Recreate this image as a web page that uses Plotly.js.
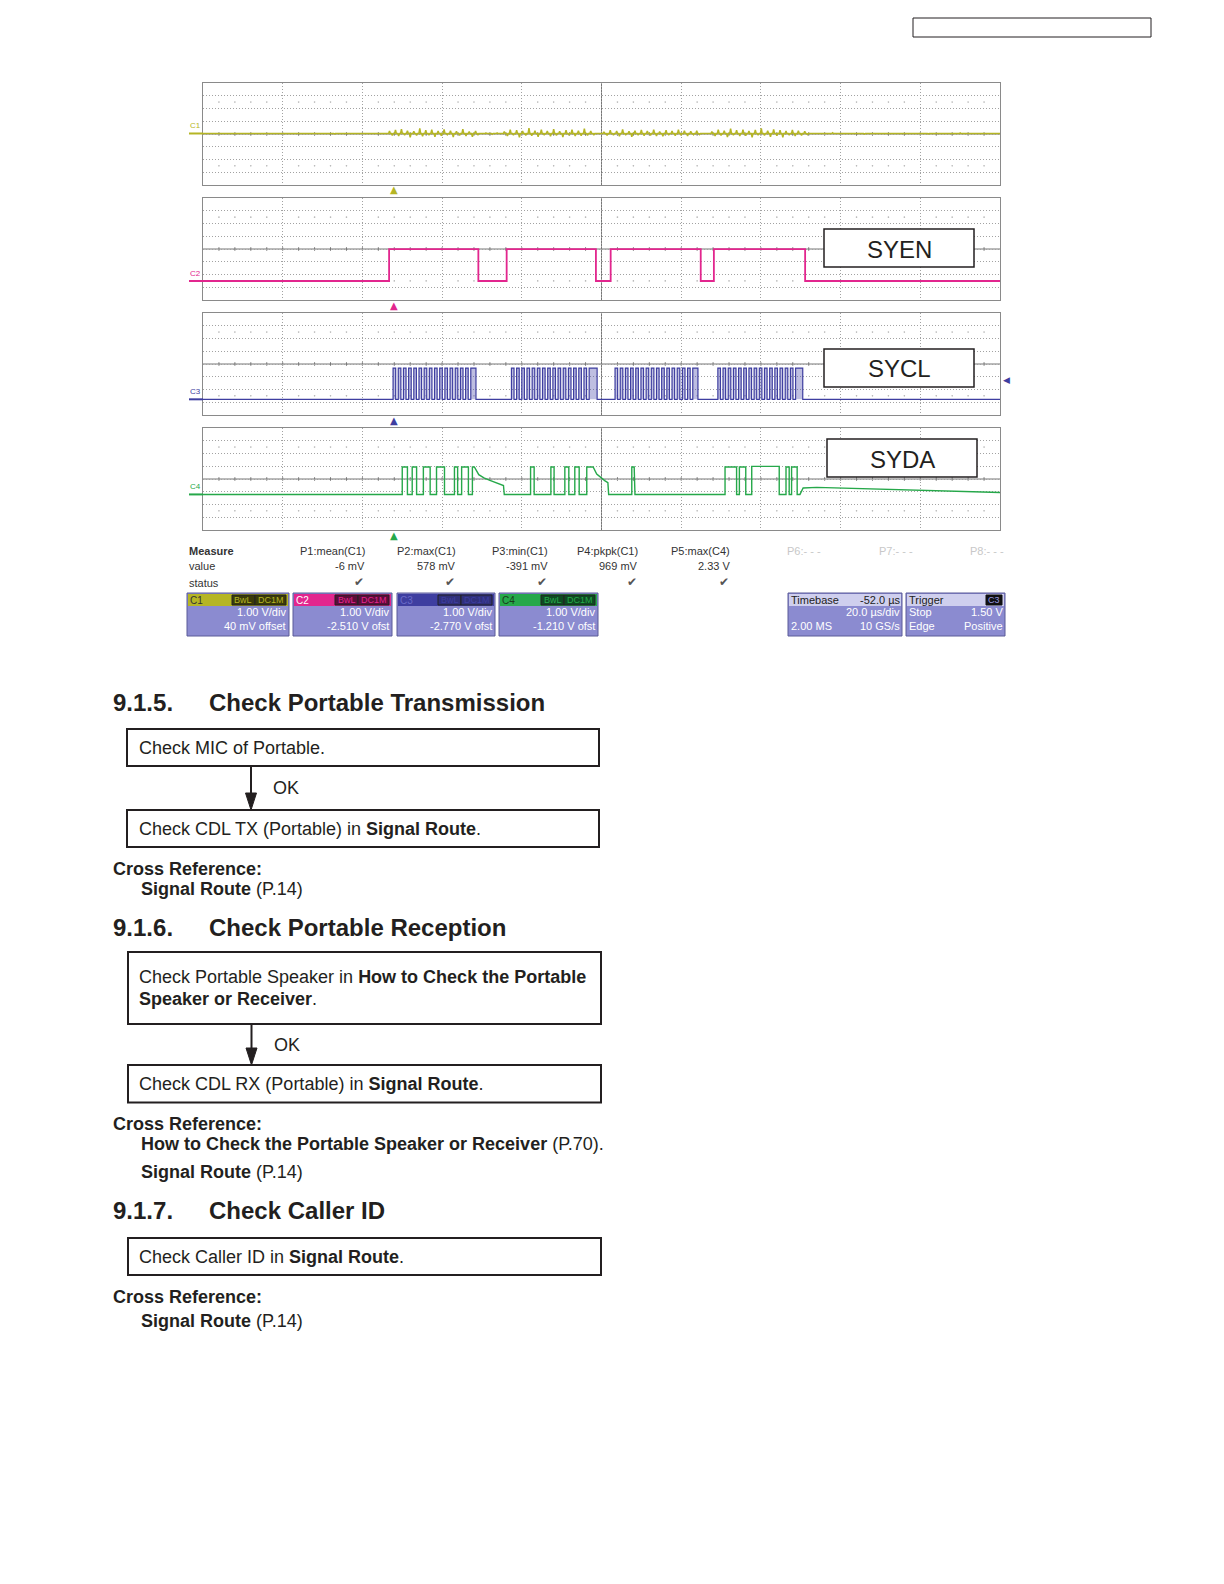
<!DOCTYPE html>
<html><head><meta charset="utf-8">
<script src="https://cdn.plot.ly/plotly-3.0.1.min.js"></script>
<style>html,body{margin:0;padding:0;background:#fff}#chart{width:1224px;height:1584px}</style>
</head><body><div id="chart"></div>
<script>
// ================= DATA =================
const timeRange = [-48, 152];                 // µs, 20 µs/div, timebase -52.0 µs
const channelNames = ['C1', 'C2', 'C3', 'C4'];
const channelOffsets = [0.04, -2.51, -2.77, -1.21];   // V
const signalLabels = ['', 'SYEN', 'SYCL', 'SYDA'];

// C1 noise spikes on a 0 V baseline (time µs, amplitude V)
const c1SpikeT = [-30,-15,
  -1.2,-0.5,0.3,1.1,1.8,2.6,3.3,4.0,4.9,5.6,6.4,7.1,7.9,8.7,9.4,10.2,11.0,11.8,12.5,13.3,14.1,14.8,15.6,16.4,17.2,18.0,18.8,19.6,20.4,21.0,
  23.0,24.6,25.8,
  27.6,28.4,29.1,29.9,30.7,31.4,32.2,33.0,33.8,34.5,35.3,36.1,36.9,37.6,38.4,39.2,40.0,40.7,41.5,42.3,43.1,43.8,44.6,45.4,46.2,46.9,47.7,48.5,49.3,50.1,
  52.6,53.4,54.2,55.0,55.8,56.5,57.3,58.1,58.9,59.6,60.4,61.2,62.0,62.7,63.5,64.3,65.1,65.8,66.6,67.4,68.2,68.9,69.7,70.5,71.3,72.0,72.8,73.6,74.4,75.1,75.9,76.6,
  79.7,80.5,81.3,82.0,82.8,83.6,84.4,85.1,85.9,86.7,87.5,88.2,89.0,89.8,90.6,91.3,92.1,92.9,93.7,94.4,95.2,96.0,96.8,97.5,98.3,99.1,99.9,100.6,101.4,102.2,103.0,103.7,
  110,118,126,134,142];
const c1SpikeV = [0.04,-0.04,
  0.2,-0.15,0.28,-0.2,0.35,-0.12,0.22,-0.3,0.18,-0.15,0.4,-0.22,0.25,-0.12,0.3,-0.25,0.2,-0.18,0.32,-0.1,0.22,-0.28,0.18,-0.15,0.35,-0.2,0.15,-0.25,0.2,-0.1,
  0.05,-0.06,0.05,
  0.15,-0.2,0.3,-0.12,0.25,-0.3,0.2,-0.15,0.42,-0.18,0.22,-0.25,0.3,-0.1,0.2,-0.22,0.35,-0.15,0.18,-0.28,0.25,-0.12,0.3,-0.2,0.22,-0.18,0.38,-0.15,0.2,-0.1,
  0.12,-0.15,0.25,-0.12,0.2,-0.22,0.32,-0.1,0.18,-0.25,0.22,-0.12,0.28,-0.18,0.2,-0.15,0.3,-0.2,0.15,-0.22,0.25,-0.1,0.2,-0.18,0.3,-0.12,0.22,-0.2,0.18,-0.1,0.22,-0.08,
  0.15,-0.2,0.3,-0.15,0.22,-0.28,0.38,-0.12,0.25,-0.2,0.3,-0.18,0.2,-0.3,0.28,-0.12,0.4,-0.15,0.22,-0.25,0.32,-0.18,0.25,-0.3,0.2,-0.12,0.28,-0.2,0.22,-0.15,0.18,-0.08,
  0.06,-0.05,0.05,-0.04,0.05];

// C2 SYEN (step levels, V)
const c2T = [-48, -1.3, 21.1, 28.2, 50.6, 54.3, 76.9, 80.2, 103.1, 152];
const c2V = [0, 2.5, 0, 2.5, 0, 2.5, 0, 2.5, 0, 0];

// C3 SYCL clock edges (µs)
const c3Rise = [-0.3,1.0,2.3,3.6,4.9,6.2,7.5,8.8,10.1,11.4,12.7,14.0,15.3,16.6,17.9,19.2,
  29.4,30.7,32.0,33.3,34.6,35.9,37.2,38.5,39.8,41.1,42.4,43.7,45.0,46.3,47.6,48.9,
  55.4,56.7,58.0,59.3,60.6,61.9,63.2,64.5,65.8,67.1,68.4,69.7,71.0,72.3,73.6,74.9,
  81.2,82.5,83.8,85.1,86.4,87.7,89.0,90.3,91.6,92.9,94.2,95.5,96.8,98.1,99.4,100.7];
const c3Fall = [0.35,1.65,2.95,4.25,5.55,6.85,8.15,9.45,10.75,12.05,13.35,14.65,15.95,17.25,18.55,20.5,
  30.05,31.35,32.65,33.95,35.25,36.55,37.85,39.15,40.45,41.75,43.05,44.35,45.65,46.95,48.25,50.9,
  56.05,57.35,58.65,59.95,61.25,62.55,63.85,65.15,66.45,67.75,69.05,70.35,71.65,72.95,74.25,76.2,
  81.85,83.15,84.45,85.75,87.05,88.35,89.65,90.95,92.25,93.55,94.85,96.15,97.45,98.75,100.05,102.5];
const c3High = 2.45, c3Low = 0;

// C4 SYDA (V)
const c4T = [-48,2.0,2.0,3.3,3.3,4.5,4.5,5.6,5.6,7.3,7.3,9.0,9.0,10.6,10.6,12.6,12.6,15.1,15.1,15.9,15.9,16.9,16.9,18.6,18.6,19.6,19.6,20.1,21.2,22.5,24.0,25.8,27.4,27.6,
  34.2,34.2,35.1,35.1,39.3,39.3,40.1,40.1,42.8,42.8,43.8,43.8,45.3,45.3,46.4,46.4,48.3,48.3,49.9,50.8,51.8,52.8,53.6,53.8,
  59.6,59.6,60.2,60.4,
  83.0,83.0,85.9,85.9,86.6,86.6,88.2,88.2,89.7,89.7,96.6,96.6,98.3,98.3,99.1,99.1,99.7,99.7,101.1,101.1,101.8,102.6,106,115,125,135,145,152];
const c4V = [0,0,2.15,2.15,0,0,2.15,2.15,0,0,2.15,2.15,0,0,2.15,2.15,0,0,2.15,2.15,0,0,2.15,2.15,0,0,2.15,2.15,1.55,1.3,1.1,0.88,0.7,0,
  0,2.15,2.15,0,0,2.15,2.15,0,0,2.15,2.15,0,0,2.15,2.15,0,0,2.15,2.15,1.6,1.3,1.08,0.92,0,
  0,2.15,2.15,0,
  0,2.15,2.15,0,0,2.15,2.15,0,0,2.2,2.2,0,0,2.15,2.15,0,0,2.15,2.15,0,0,0.5,0.55,0.48,0.38,0.28,0.2,0.15];

const triggerLevel = 1.5;  // V on C3

// Measurements & settings
const measureNames  = ['P1:mean(C1)','P2:max(C1)','P3:min(C1)','P4:pkpk(C1)','P5:max(C4)','P6:- - -','P7:- - -','P8:- - -'];
const measureValues = ['-6 mV','578 mV','-391 mV','969 mV','2.33 V','','',''];
const measureStatus = [true,true,true,true,true,false,false,false];
const channelVdiv   = ['1.00 V/div','1.00 V/div','1.00 V/div','1.00 V/div'];
const channelOfsTxt = ['40 mV offset','-2.510 V ofst','-2.770 V ofst','-1.210 V ofst'];

// ================= STYLE / LAYOUT =================
const W = 1224, H = 1584;
const FONT = 'Liberation Sans, Arial, Helvetica, sans-serif';
const chColors = ['#b5b524', '#e2268e', '#3e3ea0', '#26a84a'];
const panelTops = [83, 198, 313, 428], panelH = 102, panelX0 = 203, panelX1 = 1000;

const A = [], S = [];
const px = x => x / W, py = y => 1 - y / H;
function T(x, y, text, size, o = {}) {
  A.push({xref:'paper', yref:'paper', x:px(x), y:py(y), text, showarrow:false,
    xanchor:o.anchor || 'left', yanchor:'middle', borderpad:0, borderwidth:0,
    font:{family:o.family || FONT, size, color:o.color || '#231f20'}});
}
function R(x0, y0, x1, y1, o = {}) {
  S.push({type:'rect', xref:'paper', yref:'paper', x0:px(x0), x1:px(x1), y0:py(y1), y1:py(y0),
    line:{color:o.line || '#000', width:(o.lw === undefined ? 1 : o.lw)},
    fillcolor:o.fill || 'rgba(0,0,0,0)', layer:'above'});
}
function Ln(x0, y0, x1, y1, color, w) {
  S.push({type:'line', xref:'paper', yref:'paper', x0:px(x0), x1:px(x1), y0:py(y0), y1:py(y1),
    line:{color, width:w}, layer:'above'});
}
function Tri(xc, ytop, ybot, halfw) {
  S.push({type:'path', xref:'paper', yref:'paper',
    path:`M ${px(xc-halfw)} ${py(ytop)} L ${px(xc+halfw)} ${py(ytop)} L ${px(xc)} ${py(ybot)} Z`,
    fillcolor:'#231f20', line:{color:'#231f20', width:1}, layer:'above'});
}

const layout = {width:W, height:H, margin:{l:0, r:0, t:0, b:0}, paper_bgcolor:'#fff', plot_bgcolor:'#fff',
  showlegend:false, hovermode:false, autosize:false};

const traces = [];
const gridStyle = {showgrid:true, gridcolor:'#a2a2a2', griddash:'1px,2px', gridwidth:1,
  showline:true, linecolor:'#8a8a8a', linewidth:1, mirror:true, zeroline:false,
  showticklabels:false, ticks:'', fixedrange:true};

for (let i = 0; i < 4; i++) {
  const xk = i ? 'xaxis' + (i + 1) : 'xaxis', yk = i ? 'yaxis' + (i + 1) : 'yaxis';
  const xr = i ? 'x' + (i + 1) : 'x', yr = i ? 'y' + (i + 1) : 'y';
  const off = channelOffsets[i];
  const top = panelTops[i];
  layout[xk] = Object.assign({}, gridStyle, {domain:[px(panelX0), px(panelX1)], range:timeRange.slice(),
    anchor:yr, tick0:timeRange[0], dtick:20});
  layout[yk] = Object.assign({}, gridStyle, {domain:[py(top + panelH), py(top)], range:[-4 - off, 4 - off],
    anchor:xr, tick0:-off, dtick:1});
  const mid = (timeRange[0] + timeRange[1]) / 2;
  // centre crosshair
  S.push({type:'line', xref:xr, yref:yr, x0:timeRange[0], x1:timeRange[1], y0:-off, y1:-off,
    line:{color:'#777', width:1}, layer:'below'});
  S.push({type:'line', xref:xr, yref:yr, x0:mid, x1:mid, y0:-4 - off, y1:4 - off,
    line:{color:'#777', width:1}, layer:'below'});
  // tick marks on centre line and dot rows (grid decoration)
  const dx = [], dy = [];
  for (let k = 1; k < 50; k++) {
    const t = timeRange[0] + k * 4;
    S.push({type:'line', xref:xr, yref:yr, x0:t, x1:t, y0:-off - 0.14, y1:-off + 0.14,
      line:{color:'#777', width:1}, layer:'below'});
    if (k % 5 !== 0) { dx.push(t, t); dy.push(2.5 - off, -2.5 - off); }
  }
  traces.push({type:'scatter', mode:'markers', x:dx, y:dy, xaxis:xr, yaxis:yr,
    marker:{size:1.6, color:'#b4b4b4'}, hoverinfo:'skip'});
  // ground marker & channel label
  S.push({type:'line', xref:'paper', yref:yr, x0:px(189), x1:px(203), y0:0, y1:0,
    line:{color:chColors[i], width:2}, layer:'above'});
  A.push({xref:'paper', yref:yr, x:px(188), y:0, yshift:8, text:channelNames[i], showarrow:false,
    xanchor:'left', yanchor:'middle', font:{family:FONT, size:8, color:chColors[i]}});
  // trigger position marker
  A.push({xref:xr, yref:'paper', x:0, y:py(top + panelH + 5), text:'▲', showarrow:false,
    xanchor:'center', yanchor:'middle', font:{family:'DejaVu Sans', size:10, color:chColors[i]}});
}
// trigger level marker on C3
A.push({xref:'paper', yref:'y3', x:px(1001), y:triggerLevel, text:'◀', showarrow:false,
  xanchor:'left', yanchor:'middle', font:{family:'DejaVu Sans', size:9, color:chColors[2]}});

// ---- signal traces ----
const c1x = [timeRange[0]], c1y = [0];
for (let k = 0; k < c1SpikeT.length; k++) {
  c1x.push(c1SpikeT[k] - 0.22, c1SpikeT[k], c1SpikeT[k] + 0.22); c1y.push(0, c1SpikeV[k], 0);
}
c1x.push(timeRange[1]); c1y.push(0);
traces.push({type:'scatter', mode:'lines', x:c1x, y:c1y, xaxis:'x', yaxis:'y',
  line:{color:chColors[0], width:1.5}, hoverinfo:'skip'});
traces.push({type:'scatter', mode:'lines', x:c2T, y:c2V, xaxis:'x2', yaxis:'y2',
  line:{color:chColors[1], width:1.8, shape:'hv'}, hoverinfo:'skip'});
const c3x = [timeRange[0]], c3y = [c3Low];
for (let k = 0; k < c3Rise.length; k++) { c3x.push(c3Rise[k], c3Fall[k]); c3y.push(c3High, c3Low); }
c3x.push(timeRange[1]); c3y.push(c3Low);
traces.push({type:'scatter', mode:'lines', x:c3x, y:c3y, xaxis:'x3', yaxis:'y3', fill:'tozeroy',
  fillcolor:'rgba(70,70,170,0.35)', line:{color:chColors[2], width:1.2, shape:'hv'}, hoverinfo:'skip'});
traces.push({type:'scatter', mode:'lines', x:c4T, y:c4V, xaxis:'x4', yaxis:'y4',
  line:{color:chColors[3], width:1.4}, hoverinfo:'skip'});

// ---- signal name boxes ----
const sigBoxes = [null, [824, 229, 974, 267], [824, 349, 974, 387], [827, 439, 977, 477]];
for (let i = 1; i < 4; i++) {
  const b = sigBoxes[i];
  R(b[0], b[1], b[2], b[3], {fill:'#fff', line:'#231f20', lw:1.5});
  T((b[0] + b[2]) / 2, (b[1] + b[3]) / 2 + 1, signalLabels[i], 24, {anchor:'center'});
}

// ---- measurement table ----
T(189, 550.5, '<b>Measure</b>', 11, {color:'#333'});
T(189, 566.5, 'value', 11, {color:'#333'});
T(189, 582.5, 'status', 11, {color:'#333'});
const measRight = [365, 456, 548, 638, 730, 821, 913, 1004];
for (let k = 0; k < measureNames.length; k++) {
  const c = measureStatus[k] ? '#333' : '#c8c8c8';
  T(measRight[k], 550.5, measureNames[k], 11, {anchor:'right', color:c});
  if (measureValues[k]) T(measRight[k], 566.5, measureValues[k], 11, {anchor:'right', color:'#333'});
  if (measureStatus[k]) T(measRight[k] - 6, 582, '✔', 12, {anchor:'center', color:'#555', family:'DejaVu Sans'});
}
// channel setting boxes
const chBoxX = [[187, 289], [293, 392], [397, 495], [499, 598]];
const chNameCol = ['#333', '#fff', '#6a6ac8', '#1a3a1a'];
const badgeFill = ['#3a3a0a', '#5c0c3a', '#30307a', '#0e4a22'];
for (let i = 0; i < 4; i++) {
  const [x0, x1] = chBoxX[i];
  R(x0, 593, x1, 636, {fill:'#8b8bd0', line:'#5a5a98'});
  R(x0 + 1, 594, x1 - 1, 606, {fill:chColors[i], lw:0});
  T(x0 + 3, 600, channelNames[i], 10, {color:chNameCol[i]});
  R(x1 - 57, 595, x1 - 34, 605, {fill:badgeFill[i], line:'#222'});
  T(x1 - 45.5, 600, 'BwL', 9, {anchor:'center', color:chColors[i]});
  R(x1 - 34, 595, x1 - 3, 605, {fill:badgeFill[i], line:'#222'});
  T(x1 - 18.5, 600, 'DC1M', 9, {anchor:'center', color:chColors[i]});
  T(x1 - 3, 612, channelVdiv[i], 11, {anchor:'right', color:'#fff'});
  T(x1 - 3, 626.5, channelOfsTxt[i], 11, {anchor:'right', color:'#fff'});
}
// timebase box
R(788, 593, 902, 636, {fill:'#8b8bd0', line:'#5a5a98'});
R(789, 594, 901, 606, {fill:'#cfcfee', lw:0});
T(791, 600, 'Timebase', 11, {color:'#222'});
T(900, 600, '-52.0 µs', 11, {anchor:'right', color:'#222'});
T(900, 612, '20.0 µs/div', 11, {anchor:'right', color:'#fff'});
T(791, 626.5, '2.00 MS', 11, {color:'#fff'});
T(900, 626.5, '10 GS/s', 11, {anchor:'right', color:'#fff'});
// trigger box
R(906, 593, 1005, 636, {fill:'#8b8bd0', line:'#5a5a98'});
R(907, 594, 1004, 606, {fill:'#cfcfee', lw:0});
T(909, 600, 'Trigger', 11, {color:'#222'});
R(986, 595, 1002, 605, {fill:'#111', line:'#111'});
T(994, 600, 'C3', 9, {anchor:'center', color:'#9a9ae0'});
T(909, 612, 'Stop', 11, {color:'#fff'});
T(1003, 612, '1.50 V', 11, {anchor:'right', color:'#fff'});
T(909, 626.5, 'Edge', 11, {color:'#fff'});
T(1003, 626.5, 'Positive', 11, {anchor:'right', color:'#fff'});

// ---- page header box ----
R(913, 18, 1151, 37, {line:'#231f20', lw:1});

// ---- document text ----
T(113, 703, '<b>9.1.5.</b>', 24);
T(209, 703, '<b>Check Portable Transmission</b>', 24);
R(127, 729, 599, 766, {line:'#231f20', lw:2});
T(139, 748, 'Check MIC of Portable.', 18);
Ln(251, 766, 251, 795, '#231f20', 2); Tri(251, 793, 810, 5.5);
T(273, 788, 'OK', 18);
R(127, 810, 599, 847, {line:'#231f20', lw:2});
T(139, 829, 'Check CDL TX (Portable) in <b>Signal Route</b>.', 18);
T(113, 869, '<b>Cross Reference:</b>', 18);
T(141, 889, '<b>Signal Route</b> (P.14)', 18);

T(113, 927, '<b>9.1.6.</b>', 24);
T(209, 927, '<b>Check Portable Reception</b>', 24);
R(128, 952, 601, 1024, {line:'#231f20', lw:2});
T(139, 976.5, 'Check Portable Speaker in <b>How to Check the Portable</b>', 18);
T(139, 998.5, '<b>Speaker or Receiver</b>.', 18);
Ln(251.5, 1024, 251.5, 1050, '#231f20', 2); Tri(251.5, 1048, 1065, 5.5);
T(274, 1045, 'OK', 18);
R(128, 1065, 601, 1102.5, {line:'#231f20', lw:2});
T(139, 1083.5, 'Check CDL RX (Portable) in <b>Signal Route</b>.', 18);
T(113, 1124, '<b>Cross Reference:</b>', 18);
T(141, 1144, '<b>How to Check the Portable Speaker or Receiver</b> (P.70).', 18);
T(141, 1172, '<b>Signal Route</b> (P.14)', 18);

T(113, 1210, '<b>9.1.7.</b>', 24);
T(209, 1210, '<b>Check Caller ID</b>', 24);
R(128, 1238, 601, 1275, {line:'#231f20', lw:2});
T(139, 1256.5, 'Check Caller ID in <b>Signal Route</b>.', 18);
T(113, 1296.5, '<b>Cross Reference:</b>', 18);
T(141, 1320.5, '<b>Signal Route</b> (P.14)', 18);

layout.shapes = S;
layout.annotations = A;
Plotly.newPlot('chart', traces, layout, {staticPlot:true, displayModeBar:false});
</script>
</body></html>
